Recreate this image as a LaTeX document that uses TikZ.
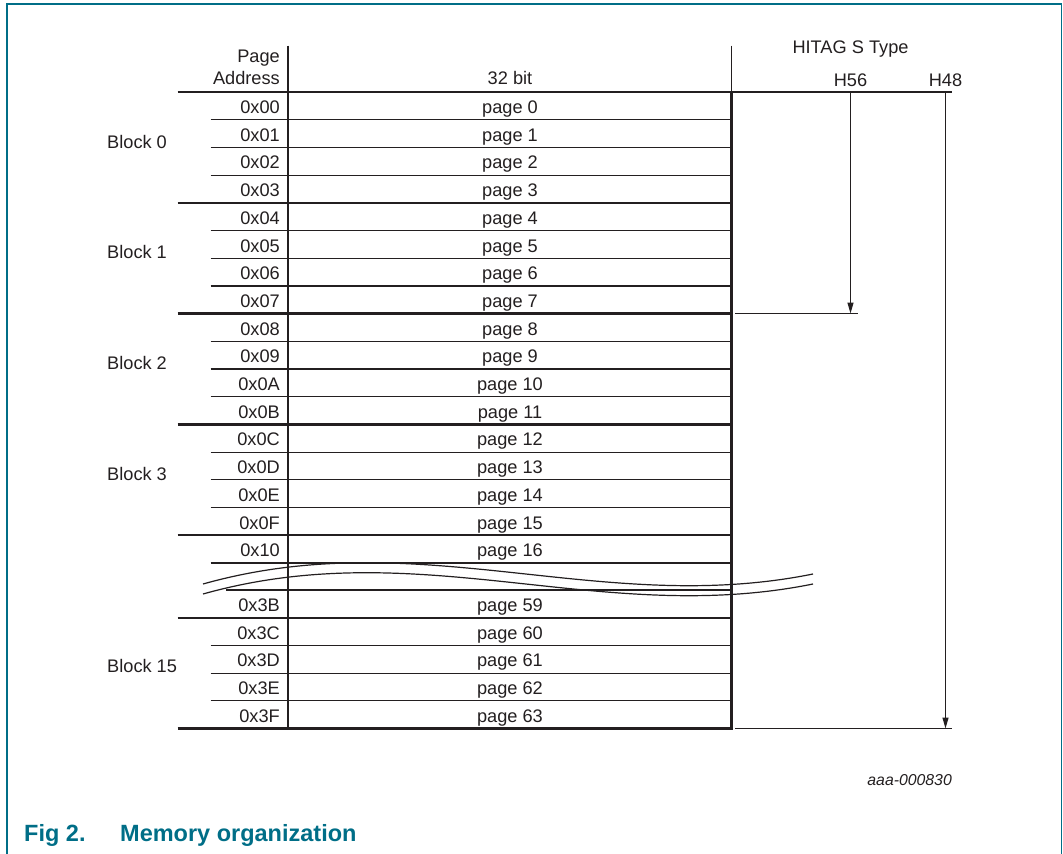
\documentclass[tikz,border=0pt]{standalone}
\usepackage{fontspec}
\setmainfont{Liberation Sans}
\usetikzlibrary{arrows.meta}
\definecolor{frameteal}{RGB}{0,110,135}
\definecolor{ink}{RGB}{35,31,32}
\tikzset{
  thickrule/.style={draw=ink, line width=2.4pt},
  thinrule/.style={draw=ink, line width=1.2pt},
  lbl/.style={inner sep=0pt, text=ink, font=\fontsize{18.2}{21}\selectfont},
  addr/.style={lbl, anchor=base east},
  pg/.style={lbl, anchor=base},
  blk/.style={lbl, anchor=base west},
  dimarrow/.style={draw=ink, line width=1.2pt, -{Triangle[length=11pt,width=6pt]}},
  wave/.style={draw=ink, line width=1.2pt},
}
\begin{document}
\begin{tikzpicture}[x=1pt,y=-1pt]
\useasboundingbox (0,0) rectangle (1063,854);
% frame
\draw[frameteal, line width=1.6pt] (7,854) -- (7,4) -- (1061.5,4) -- (1061.5,854);

% header
\node[addr] (hpage) at (280,62.5) {Page};
\node[addr] (haddr) at (280,84.3) {Address};
\node[pg] (hbits) at (510,84.3) {32 bit};
\node[pg] (htype) at (850.5,53.3) {HITAG S Type};
\node[pg] (h56) at (850.5,86.7) {H56};
\node[pg] (h48) at (945.5,86.7) {H48};

% header verticals (thin)
\draw[thinrule] (288,45.5) -- (288,92);
\draw[thinrule] (731.5,45.5) -- (731.5,92);

% upper table rows 0x00 .. 0x10
\foreach \i/\a in {0/00,1/01,2/02,3/03,4/04,5/05,6/06,7/07,8/08,9/09,10/0A,11/0B,12/0C,13/0D,14/0E,15/0F,16/10}{
  \pgfmathsetmacro{\yt}{92+27.7*\i}
  \node[addr] (a\i) at (280,\yt+21.5) {0x\a};
  \node[pg] (p\i) at (510,\yt+21.5) {page \i};
}
% thin row separators
\foreach \i in {1,2,3,5,6,7,9,10,11,13,14,15,17}{
  \pgfmathsetmacro{\yt}{92+27.7*\i}
  \draw[thinrule] (210.5,\yt) -- (731.5,\yt);
}
% thick block separators
\foreach \i in {0,4,8,12,16}{
  \pgfmathsetmacro{\yt}{92+27.7*\i}
  \draw[thickrule] (177.5,\yt) -- (731.5,\yt);
}
\node[blk] (b0) at (107,148.3) {Block 0};
\node[blk] (b1) at (107,258.9) {Block 1};
\node[blk] (b2) at (107,369.7) {Block 2};
\node[blk] (b3) at (107,480.5) {Block 3};

% lower table rows 0x3B .. 0x3F
\foreach \j/\a/\n in {0/3B/59,1/3C/60,2/3D/61,3/3E/62,4/3F/63}{
  \pgfmathsetmacro{\yt}{590+27.7*\j}
  \node[addr] (la\j) at (280,\yt+21.5) {0x\a};
  \node[pg] (lp\j) at (510,\yt+21.5) {page \n};
}
\draw[thinrule] (226,590) -- (731.5,590);
\foreach \j in {2,3,4}{
  \pgfmathsetmacro{\yt}{590+27.7*\j}
  \draw[thinrule] (210.5,\yt) -- (731.5,\yt);
}
\draw[thickrule] (177.5,617.7) -- (731.5,617.7);
\draw[thickrule, line width=2.8pt] (177.5,728.5) -- (732.7,728.5);
\node[blk] (b15) at (107,672.5) {Block 15};

% verticals of table (thick)
\draw[thickrule] (288,92) -- (288,728.5);
\draw[thickrule] (731.5,92) -- (731.5,729.5);

% break waves
\draw[wave] (203,584) .. controls (420,523) and (600,617) .. (813,574);
\draw[wave] (203,594) .. controls (420,533) and (600,627) .. (813,584);

% type extents
\coordinate (t0) at (732,92);
\coordinate (t0e) at (952,92);
\draw[thinrule] (t0) -- (t0e);
\coordinate (t56s) at (850.5,92);
\coordinate (t56e) at (850.5,313.5);
\coordinate (t56a) at (735,313.5);
\coordinate (t56b) at (858,313.5);
\draw[thinrule] (t56a) -- (t56b);
\draw[dimarrow] (t56s) -- (t56e);
\coordinate (t48s) at (945.5,92);
\coordinate (t48e) at (945.5,728.5);
\coordinate (t48a) at (735,728.5);
\coordinate (t48b) at (952,728.5);
\draw[thinrule] (t48a) -- (t48b);
\draw[dimarrow] (t48s) -- (t48e);

% code and caption
\node[inner sep=0pt, anchor=base east, text=ink, font=\fontsize{15.8}{18}\selectfont\itshape] (code) at (952,785) {aaa-000830};
\node[inner sep=0pt, anchor=base west, text=frameteal, font=\fontsize{23.5}{27}\selectfont\bfseries] (fig) at (24,841.5) {Fig 2.};
\node[inner sep=0pt, anchor=base west, text=frameteal, font=\fontsize{23.5}{27}\selectfont\bfseries] (cap) at (120,841.5) {Memory organization};
\end{tikzpicture}
\end{document}
